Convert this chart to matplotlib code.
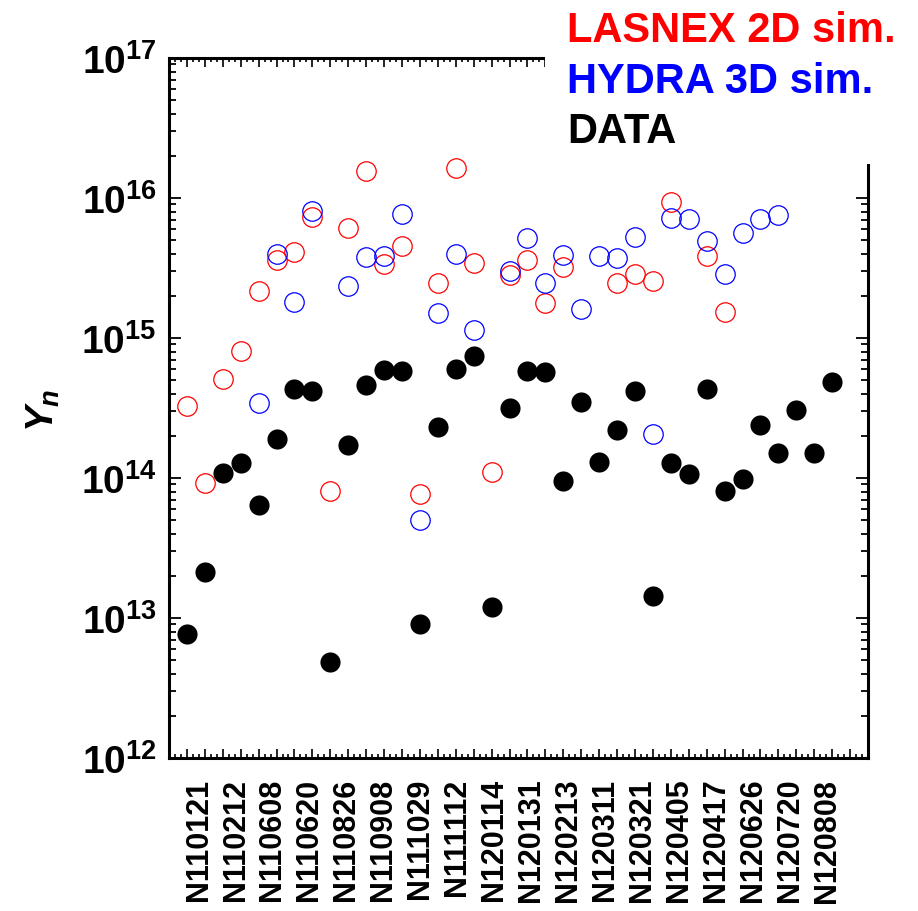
import numpy as np
import matplotlib
matplotlib.use('Agg')
import matplotlib.pyplot as plt
from matplotlib.ticker import MultipleLocator, LogLocator, NullFormatter, FuncFormatter
from matplotlib.patches import Rectangle
import matplotlib.transforms as mtransforms

plt.rcParams['font.family'] = 'Liberation Sans'
plt.rcParams['font.weight'] = 'bold'
plt.rcParams['mathtext.fontset'] = 'custom'
plt.rcParams['mathtext.rm'] = 'Liberation Sans:bold'
plt.rcParams['mathtext.bf'] = 'Liberation Sans:bold'
plt.rcParams['mathtext.it'] = 'Liberation Sans:italic:bold'
plt.rcParams['mathtext.default'] = 'bf'

nan = np.nan

# shot labels shown on the axis (every other shot)
shot_labels = ['N110121', 'N110212', 'N110608', 'N110620', 'N110826', 'N110908',
               'N111029', 'N111112', 'N120114', 'N120131', 'N120213', 'N120311',
               'N120321', 'N120405', 'N120417', 'N120626', 'N120720', 'N120808']

# measured neutron yield
data_yn = [7.65e12, 2.12e13, 1.09e14, 1.27e14, 6.46e13, 1.91e14, 4.34e14, 4.2e14,
           4.83e12, 1.73e14, 4.63e14, 5.93e14, 5.83e14, 9.0e12, 2.32e14, 6.02e14,
           7.45e14, 1.19e13, 3.18e14, 5.83e14, 5.73e14, 9.58e13, 3.5e14, 1.31e14,
           2.21e14, 4.2e14, 1.43e13, 1.29e14, 1.06e14, 4.34e14, 8.13e13, 9.9e13,
           2.4e14, 1.52e14, 3.07e14, 1.52e14, 4.86e14]

# LASNEX 2D simulations
lasnex_yn = [3.28e14, 9.27e13, 5.11e14, 8.09e14, 2.17e15, 3.6e15, 4.11e15, 7.3e15,
             8.13e13, 6.1e15, 1.55e16, 3.38e15, 4.53e15, 7.74e13, 2.47e15, 1.63e16,
             3.43e15, 1.11e14, 2.82e15, 3.6e15, 1.78e15, 3.21e15, nan, nan,
             2.47e15, 2.86e15, 2.55e15, 9.33e15, nan, 3.85e15, 1.53e15, nan,
             nan, nan, nan, nan, nan]

# HYDRA 3D simulations
hydra_yn = [nan, nan, nan, nan, 3.45e14, 3.97e15, 1.81e15, 8.05e15,
            nan, 2.35e15, 3.78e15, 3.85e15, 7.67e15, 5.05e13, 1.51e15, 3.97e15,
            1.14e15, nan, 3.01e15, 5.17e15, 2.47e15, 3.91e15, 1.61e15, 3.85e15,
            3.72e15, 5.26e15, 2.07e14, 7.18e15, 7.06e15, 4.92e15, 2.86e15, 5.61e15,
            7.06e15, 7.54e15, nan, nan, nan]

x = np.arange(1, len(data_yn) + 1)

fig = plt.figure(figsize=(9.18, 9.12), dpi=100)
ax = fig.add_axes([169 / 918, 1 - 759 / 912, 699 / 918, 700 / 912])

ax.plot(x, lasnex_yn, 'o', ms=14, mfc='none', mec='red', mew=0.9, ls='none')
ax.plot(x, hydra_yn, 'o', ms=14, mfc='none', mec='blue', mew=0.9, ls='none')
ax.plot(x, data_yn, 'o', ms=14.5, mfc='black', mec='black', mew=0, ls='none')

ax.set_yscale('log')
ax.set_ylim(1e12, 1e17)
ax.set_xlim(0, len(data_yn) + 2)

for s in ax.spines.values():
    s.set_linewidth(2.2)

ax.yaxis.set_major_locator(LogLocator(base=10, numticks=10))
ax.yaxis.set_minor_locator(LogLocator(base=10, subs=np.arange(2, 10), numticks=10))
ax.yaxis.set_minor_formatter(NullFormatter())
ax.yaxis.set_major_formatter(FuncFormatter(lambda v, p: r'$10^{%d}$' % round(np.log10(v))))

ax.xaxis.set_major_locator(MultipleLocator(1))
ax.xaxis.set_minor_locator(MultipleLocator(1 / 3))
ax.xaxis.set_major_formatter(NullFormatter())

ax.tick_params(axis='y', which='major', direction='in', length=8.5, width=1.3,
               left=True, right=True, labelsize=28, pad=9)
ax.tick_params(axis='y', which='minor', direction='in', length=5, width=1.3,
               left=True, right=True)
ax.tick_params(axis='x', which='major', direction='in', length=6.5, width=1.2,
               bottom=True, top=True)
ax.tick_params(axis='x', which='minor', direction='in', length=3.2, width=1.2,
               bottom=True, top=True)

# shot labels under the axis
lab_pos = np.linspace(1.65, 36.7, len(shot_labels))
trans = mtransforms.blended_transform_factory(ax.transData, ax.transAxes)
for p, lab in zip(lab_pos, shot_labels):
    ax.text(p, -0.028, lab, transform=trans, rotation=90, ha='center', va='top',
            fontsize=22, fontweight='bold')

fig.text(43 / 918, 1 - 410 / 912, r'$\mathit{Y_n}$', rotation=90, ha='center',
         va='center', fontsize=28)

# white box over the frame corner behind the legend text
fig.add_artist(Rectangle((545 / 918, 1 - 165 / 912), 1, 1, transform=fig.transFigure,
                         facecolor='white', edgecolor='none', zorder=10))
fig.text(567 / 918, 1 - 42 / 912, 'LASNEX 2D sim.', color='red', fontsize=30,
         fontweight='bold', va='baseline', zorder=11)
fig.text(567 / 918, 1 - 93 / 912, 'HYDRA 3D sim.', color='blue', fontsize=30,
         fontweight='bold', va='baseline', zorder=11)
fig.text(567 / 918, 1 - 143 / 912, 'DATA', color='black', fontsize=30,
         fontweight='bold', va='baseline', zorder=11)

fig.savefig('out.png', dpi=100)
